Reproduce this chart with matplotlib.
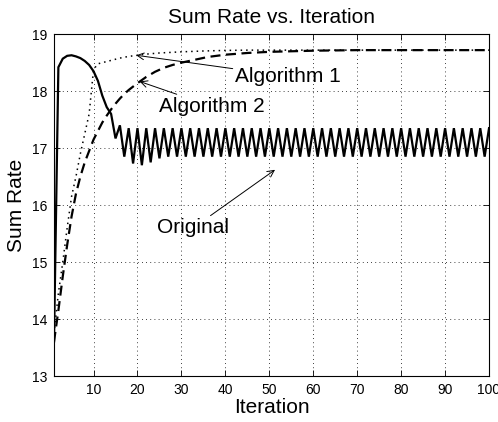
import matplotlib
matplotlib.use("Agg")
import matplotlib.pyplot as plt

plt.rcParams["font.family"] = ["Liberation Sans", "DejaVu Sans"]

# Original: fast rise, then period-2 oscillation
orig_head = [13.6, 18.42, 18.57, 18.62, 18.63, 18.61, 18.58, 18.53, 18.46, 18.35,
             18.18, 17.92, 17.72, 17.6, 17.17, 17.4, 16.85, 17.35, 16.73, 17.35,
             16.7, 17.35, 16.75, 17.35, 16.82, 17.35]
orig_tail = [16.85, 17.35] * 37
original = orig_head + orig_tail
iters = list(range(1, len(original) + 1))

alg1_x = [1, 2, 3, 4, 5, 6, 7, 8, 9, 10, 11, 12, 14, 16, 18, 20, 22, 25, 30, 35, 40, 45, 100]
alg1_y = [13.75, 14.45, 15.0, 15.6, 16.15, 16.5, 16.9, 17.25, 17.6, 18.38, 18.48, 18.5,
          18.54, 18.58, 18.61, 18.63, 18.65, 18.67, 18.69, 18.705, 18.715, 18.72, 18.72]

alg2_x = [1, 2, 3, 4, 5, 6, 7, 8, 9, 10, 11, 12, 13, 14, 15, 16, 17, 18, 19, 20,
          22, 24, 26, 28, 30, 33, 36, 40, 45, 50, 55, 60, 70, 100]
alg2_y = [13.6, 14.15, 14.75, 15.3, 15.8, 16.2, 16.5, 16.75, 16.95, 17.15,
          17.3, 17.45, 17.57, 17.68, 17.78, 17.87, 17.95, 18.02, 18.08, 18.14,
          18.25, 18.34, 18.41, 18.46, 18.5, 18.55, 18.6, 18.64, 18.67, 18.69,
          18.7, 18.71, 18.72, 18.72]

fig = plt.figure(figsize=(4.98, 4.22), dpi=100)
ax = fig.add_axes([0.1084, 0.109, 0.8736, 0.81])

ax.plot(iters, original, color="black", lw=1.6, solid_joinstyle="miter")
ax.plot(alg1_x, alg1_y, color="black", lw=1.1, linestyle=(0, (1, 2.6)))
ax.plot(alg2_x, alg2_y, color="black", lw=1.6, linestyle=(0, (4.5, 2.5)))

ax.set_xlim(1, 100)
ax.set_ylim(13, 19)
ax.set_xticks(range(10, 101, 10))
ax.set_yticks(range(13, 20))
ax.tick_params(direction="in", top=True, right=True, length=4, width=0.6,
               labelsize=10, pad=5)
ax.grid(True, color="black", linestyle=(0, (1, 4)), linewidth=0.6)
for s in ax.spines.values():
    s.set_linewidth(0.8)

ax.set_title("Sum Rate vs. Iteration", fontsize=15, pad=8)
ax.set_xlabel("Iteration", fontsize=15, labelpad=1)
ax.set_ylabel("Sum Rate", fontsize=15, labelpad=4)

arrow = dict(arrowstyle="->", color="black", lw=0.7, shrinkA=0, shrinkB=0,
             mutation_scale=12)
ax.annotate("Algorithm 1", xy=(19.7, 18.63), xytext=(42.3, 18.26),
            fontsize=15, va="center", ha="left", arrowprops=arrow)
ax.annotate("Algorithm 2", xy=(20.5, 18.17), xytext=(25.0, 17.73),
            fontsize=15, va="center", ha="left", arrowprops=arrow)
ax.annotate("Original", xy=(51.3, 16.62), xytext=(24.5, 15.6),
            fontsize=15, va="center", ha="left", arrowprops=arrow)

fig.savefig("out.png", dpi=100)
